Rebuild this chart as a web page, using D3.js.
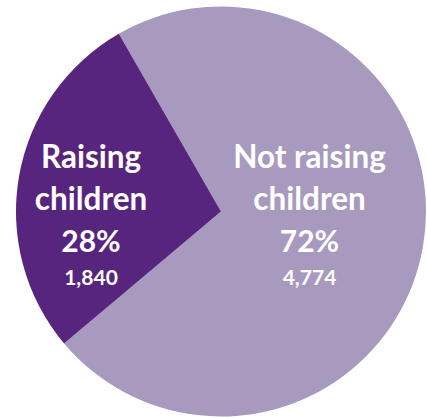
<!DOCTYPE html>
<html>
<head>
<meta charset="utf-8">
<script src="https://cdn.jsdelivr.net/npm/d3@7"></script>
<style>
  html, body { margin: 0; padding: 0; background: #fff; }
  svg { display: block; }
</style>
</head>
<body>
<svg id="chart" width="427" height="419"></svg>
<script>
// data
const categories = ["Not raising children", "Raising children"];
const labelLines = [["Not raising", "children"], ["Raising", "children"]];
const counts = [4774, 1840];
const colors = ["#a89abe", "#57257d"];

const svg = d3.select("#chart");
const cx = 221, cy = 211.5, r = 205;

const total = d3.sum(counts);
const startAngle = -29.9 * Math.PI / 180;

const pie = d3.pie()
  .sort(null)
  .startAngle(startAngle)
  .endAngle(startAngle + 2 * Math.PI);

const arcs = pie(counts);

const arc = d3.arc().innerRadius(0).outerRadius(r);

const g = svg.append("g").attr("transform", `translate(${cx},${cy})`);

g.selectAll("path")
  .data(arcs)
  .enter()
  .append("path")
  .attr("d", arc)
  .attr("fill", (d, i) => colors[i]);

// label centres (x offset from pie centre), lines share baselines
const labelX = [88.5, -130];
const baselines = [-43.8, -1.5, 40.5, 73.5];

const fmt = d3.format(",");

const labels = g.selectAll(".label")
  .data(arcs)
  .enter()
  .append("g")
  .attr("class", "label")
  .attr("transform", (d, i) => `translate(${labelX[i]},0)`)
  .attr("fill", "#fff")
  .attr("text-anchor", "middle")
  .style("font-family", "Lato, 'Open Sans', sans-serif")
  .style("font-weight", "bold");

labels.each(function(d, i) {
  const el = d3.select(this);
  labelLines[i].forEach((t, j) => {
    el.append("text")
      .attr("y", baselines[j])
      .style("font-size", "31.5px")
      .text(t);
  });
  el.append("text")
    .attr("y", baselines[2])
    .style("font-size", "30px")
    .text(Math.round(d.value / total * 100) + "%");
  el.append("text")
    .attr("y", baselines[3])
    .style("font-size", "21px")
    .text(fmt(d.value));
});
</script>
</body>
</html>
